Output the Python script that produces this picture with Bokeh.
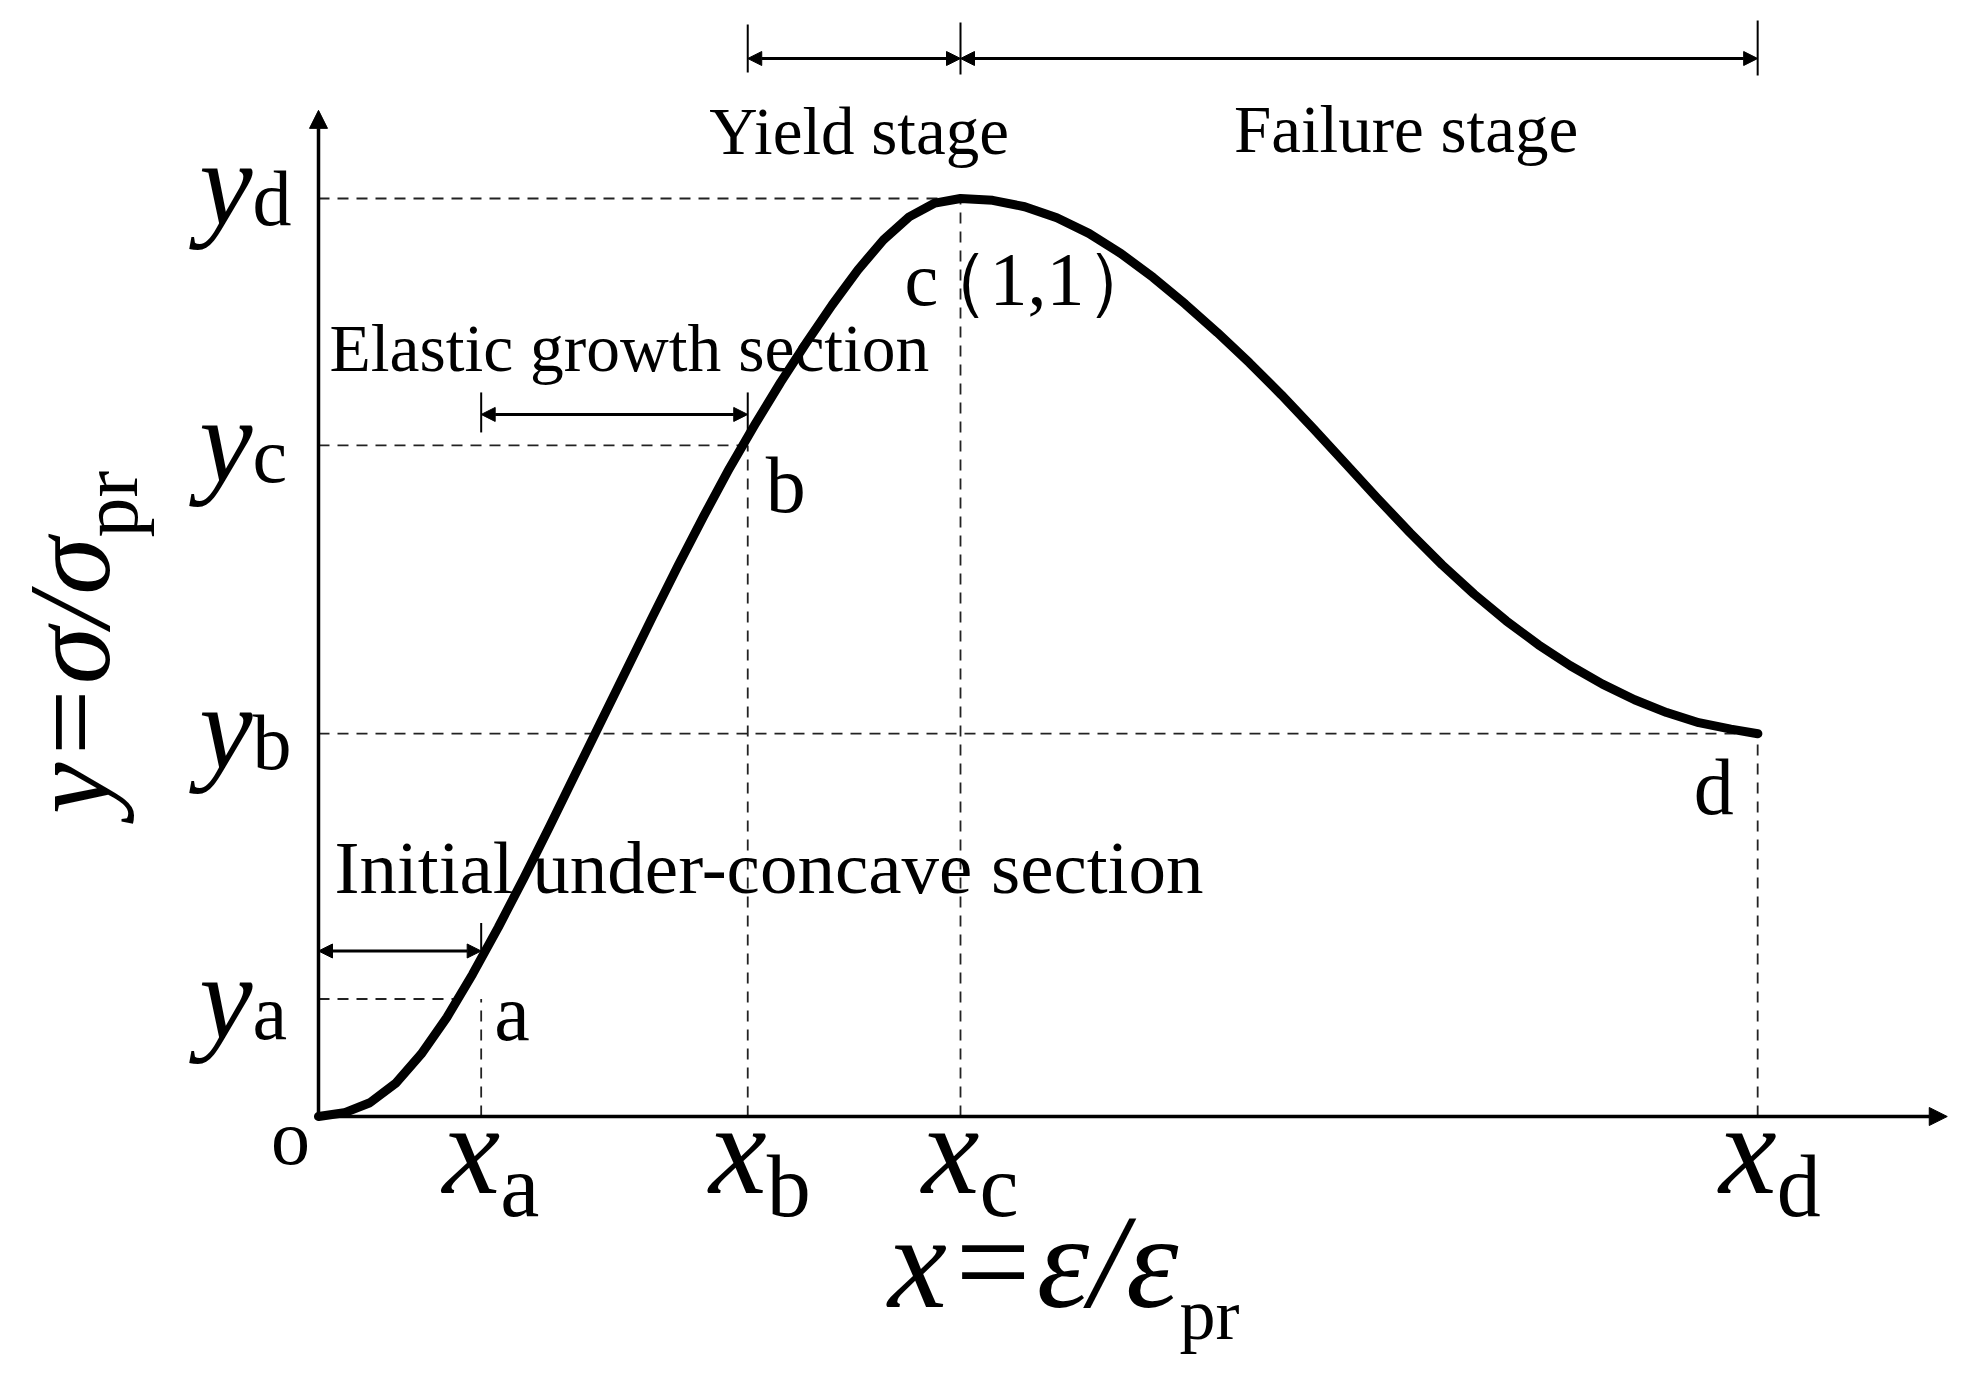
import numpy as np
from bokeh.plotting import figure
from bokeh.models import Range1d, Arrow, NormalHead
from bokeh.core.properties import value
from bokeh.embed import file_html
from bokeh.resources import INLINE

# ---------------- data (normalised: x = eps/eps_pr, y = sigma/sigma_pr) -------------
rise_x = [0.000, 0.040, 0.080, 0.120, 0.160, 0.200, 0.240, 0.280, 0.320, 0.360,
          0.400, 0.440, 0.480, 0.520, 0.560, 0.600, 0.640, 0.680, 0.720, 0.760,
          0.800, 0.840, 0.880, 0.920, 0.960, 1.000]
rise_y = [0.000, 0.004, 0.015, 0.036, 0.068, 0.108, 0.155, 0.206, 0.260, 0.316,
          0.373, 0.430, 0.487, 0.544, 0.600, 0.654, 0.706, 0.754, 0.800, 0.843,
          0.884, 0.922, 0.955, 0.980, 0.995, 1.000]
fall_x = [1.000, 1.050, 1.100, 1.150, 1.200, 1.250, 1.300, 1.350, 1.400, 1.450,
          1.500, 1.550, 1.600, 1.650, 1.700, 1.750, 1.800, 1.850, 1.900, 1.950,
          2.000, 2.050, 2.100, 2.150, 2.200, 2.242]
fall_y = [1.000, 0.998, 0.991, 0.979, 0.962, 0.940, 0.914, 0.885, 0.854, 0.821,
          0.786, 0.749, 0.711, 0.673, 0.636, 0.601, 0.569, 0.540, 0.514, 0.491,
          0.471, 0.454, 0.440, 0.429, 0.422, 0.417]

x_ticks = [0.2534, 0.6686, 1.0, 2.2417]      # xa, xb, xc, xd
y_ticks = [0.128, 0.417, 0.731, 1.0]         # ya, yb, yc, yd
tick_subs = ["a", "b", "c", "d"]
point_labels = ["a", "b", "d"]
peak_label = ["c", "（1,1）"]
stage_labels = ["Yield stage", "Failure stage"]
section_labels = ["Elastic growth section", "Initial under-concave section"]
origin_label = "o"
x_axis_label = ["x=ε/ε", "pr"]
y_axis_label = ["y=σ/σ", "pr"]
x_axis_end = 2.537
y_axis_end = 1.096

# ---------------- figure geometry -------------
W, H = 1955, 1385
PX_X, PX_Y = 642.0, 918.0          # pixels per data unit
OX, OY = 318.0, 1116.0             # origin in figure pixels
BL = 0.35                          # baseline correction (fraction of font size)


def dx(px):
    return px / PX_X


def dy(px):
    return px / PX_Y


def base(fs):
    # shift needed so that the glyph baseline lands on the wanted line
    return dy(BL * fs)


p = figure(width=W, height=H, output_backend="svg", toolbar_location=None,
           x_range=Range1d(-OX / PX_X, (W - OX) / PX_X),
           y_range=Range1d(-(H - OY) / PX_Y, OY / PX_Y),
           min_border=0)
p.axis.visible = False
p.grid.visible = False
p.outline_line_color = None
p.background_fill_color = "white"
p.border_fill_color = "white"

SERIF = value("Liberation Serif")
xa, xb, xc, xd = x_ticks
ya, yb, yc, yd = y_ticks

# ---------------- dashed guide lines -------------
ya_cross = float(np.interp(ya, rise_y, rise_x))
seg_x0 = [0, 0, 0, 0, xa, xb, xc, xd]
seg_y0 = [ya, yb, yc, yd, 0, 0, 0, 0]
seg_x1 = [ya_cross, xd, xb, xc, xa, xb, xc, xd]
seg_y1 = [ya, yb, yc, yd, ya, yc, yd, yb]
p.segment(seg_x0, seg_y0, seg_x1, seg_y1, line_color="#222222", line_width=1.8,
          line_dash="11 8")

# ---------------- axes with arrow heads -------------
p.add_layout(Arrow(end=NormalHead(size=18, fill_color="black", line_color="black"),
                   x_start=0, y_start=0, x_end=x_axis_end, y_end=0,
                   line_width=3.5, line_color="black"))
p.add_layout(Arrow(end=NormalHead(size=18, fill_color="black", line_color="black"),
                   x_start=0, y_start=0, x_end=0, y_end=y_axis_end,
                   line_width=3.5, line_color="black"))

# ---------------- curve -------------
p.line(rise_x + fall_x[1:], rise_y + fall_y[1:], line_color="black", line_width=9,
       line_join="round", line_cap="round")


# ---------------- dimension arrows -------------
def dim_arrow(x0, x1, y):
    p.add_layout(Arrow(start=NormalHead(size=14, fill_color="black", line_color="black"),
                       end=NormalHead(size=14, fill_color="black", line_color="black"),
                       x_start=x0, y_start=y, x_end=x1, y_end=y,
                       line_width=3, line_color="black"))


y_init = ya + dy(48)
y_elas = yc + dy(31)
y_top = yd + dy(140)
dim_arrow(0, xa, y_init)
dim_arrow(xa, xb, y_elas)
dim_arrow(xb, xc, y_top)
dim_arrow(xc, xd, y_top)
p.segment([xa, xa, xb, xb, xc, xd],
          [y_init - dy(7), y_elas - dy(18), y_elas - dy(18), y_top - dy(14), y_top - dy(16), y_top - dy(17)],
          [xa, xa, xb, xb, xc, xd],
          [y_init + dy(28), y_elas + dy(22), y_elas + dy(22), y_top + dy(34), y_top + dy(36), y_top + dy(38)],
          line_color="black", line_width=2)


def label(x, y, text, fs, align="left", italic=False, angle=0.0):
    kw = dict(text_font=SERIF, text_font_size=f"{fs}px", text_align=align,
              text_baseline="alphabetic", text_color="black", angle=angle)
    if italic:
        kw["text_font_style"] = "italic"
    p.text(x=x, y=y, text=text, **kw)


# stage labels
label([(xb + xc) / 2 + dx(5), (xc + xd) / 2 + dx(47)],
      [yd + dy(44) + base(67), yd + dy(46) + base(67)], stage_labels, 67, align="center")
# section labels
label([dx(11)], [yc + dy(73) + base(67.5)], [section_labels[0]], 67.5)
label([dx(16)], [ya + dy(105.5) + base(75)], [section_labels[1]], 75)
# peak label
label([xc - dx(56), xc - dx(47)], [yd - dy(107) + base(76)] * 2, peak_label, 76)
# point labels a, b, d
label([xa + dx(13), xb + dx(18), xd - dx(64)],
      [ya - dy(42) + base(80), yc - dy(68) + base(80), yb - dy(81) + base(80)],
      point_labels, 80)
# origin
label([-dx(28)], [-dy(48) + base(78)], [origin_label], 78, align="center")

# x tick labels: italic x + upright subscript
label([t + dx(19) for t in x_ticks], [-dy(78) + base(130)] * 4, ["x"] * 4, 130,
      align="right", italic=True)
label([t + dx(19) for t in x_ticks], [-dy(101) + base(88)] * 4, tick_subs, 88)
# y tick labels
y_drop = [41, 36, 37, 27]
label([-dx(66)] * 4, [t - dy(d) + base(120) for t, d in zip(y_ticks, y_drop)], ["y"] * 4, 120,
      align="right", italic=True)
label([-dx(66)] * 4, [t - dy(d) + base(78) for t, d in zip(y_ticks, y_drop)], tick_subs, 78)

# axis titles
label([dx(860)], [-dy(192) + base(133)], [x_axis_label[0]], 133, align="right", italic=True)
label([dx(861)], [-dy(224) + base(72)], [x_axis_label[1]], 72)
label([-dx(208) - dx(BL * 116)], [dy(579)], [y_axis_label[0]], 116, align="right",
      italic=True, angle=np.pi / 2)
label([-dx(181) - dx(BL * 80)], [dy(579)], [y_axis_label[1]], 80, angle=np.pi / 2)

open("out.html", "w").write(file_html(p, INLINE))
